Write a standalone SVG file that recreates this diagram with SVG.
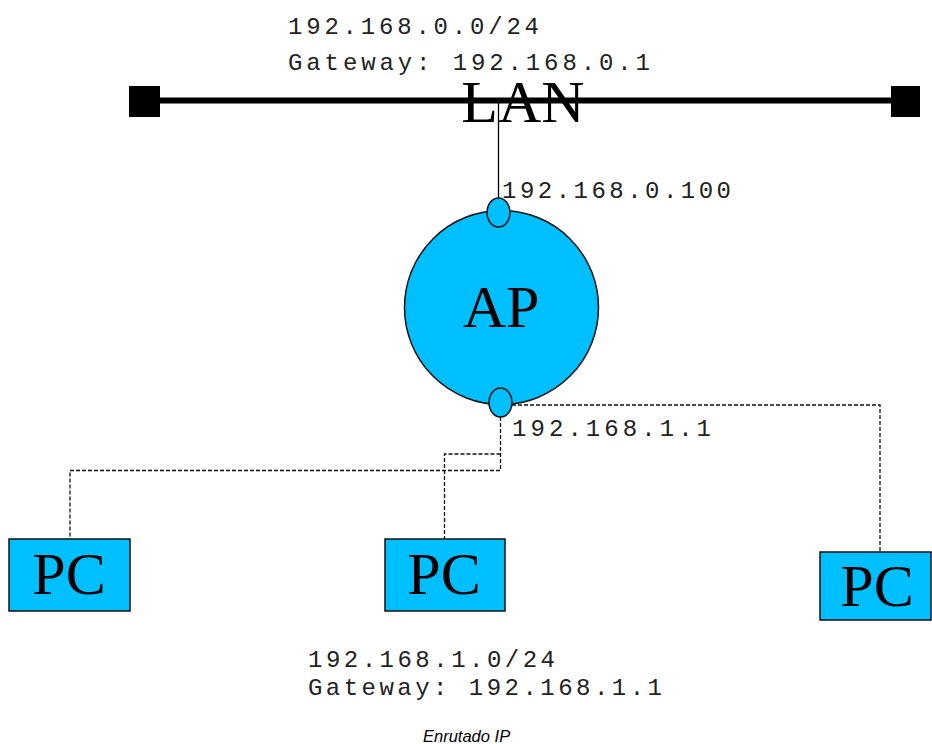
<svg xmlns="http://www.w3.org/2000/svg" width="932" height="744" viewBox="0 0 932 744">
<style>
.mono{font-family:"Liberation Mono","Courier New",monospace;font-size:24px;fill:#222}
.serif{font-family:"Liberation Serif","Times New Roman",serif;font-size:60px;fill:#000}
.node{fill:#00bfff;stroke:#111;stroke-width:1.5}
.dash{fill:none;stroke:#111;stroke-width:1.3;stroke-dasharray:4 2}
</style>
<rect width="932" height="744" fill="#fff"/>
<g id="lan">
<line x1="140" y1="100.5" x2="905" y2="100.5" stroke="#000" stroke-width="6"/>
<rect x="129" y="86" width="31" height="31" fill="#000"/>
<rect x="891" y="86" width="29" height="31" fill="#000"/>
<text class="serif" x="523" y="122" text-anchor="middle">LAN</text>
</g>
<g id="connectors">
<line x1="498.5" y1="100" x2="498.5" y2="199" stroke="#000" stroke-width="1.3"/>
<polyline class="dash" points="512,405 880,405 880,552"/>
<polyline class="dash" points="500.5,417 500.5,470.5 70,470.5 70,539"/>
<polyline class="dash" points="500.5,454 444.5,454 444.5,539"/>
</g>
<g id="ap">
<circle class="node" cx="501.5" cy="307.5" r="97"/>
<ellipse class="node" cx="498.5" cy="212.5" rx="11.5" ry="14.5"/>
<ellipse class="node" cx="500.5" cy="402.5" rx="11.5" ry="14.5"/>
<text class="serif" x="501" y="327" text-anchor="middle" font-size="58">AP</text>
</g>
<g id="pc1">
<rect class="node" x="9" y="539" width="121" height="72"/>
<text class="serif" x="69" y="594" text-anchor="middle">PC</text>
</g>
<g id="pc2">
<rect class="node" x="385" y="539" width="120" height="72"/>
<text class="serif" x="444" y="594" text-anchor="middle">PC</text>
</g>
<g id="pc3">
<rect class="node" x="820" y="552" width="111" height="68"/>
<text class="serif" x="877" y="606" text-anchor="middle">PC</text>
</g>
<g id="labels">
<text class="mono" x="288" y="34" textLength="251" lengthAdjust="spacing">192.168.0.0/24</text>
<text class="mono" x="288" y="70" textLength="362" lengthAdjust="spacing">Gateway: 192.168.0.1</text>
<text class="mono" x="502" y="198" textLength="229" lengthAdjust="spacing">192.168.0.100</text>
<text class="mono" x="512" y="436" textLength="199" lengthAdjust="spacing">192.168.1.1</text>
<text class="mono" x="308" y="667" textLength="247" lengthAdjust="spacing">192.168.1.0/24</text>
<text class="mono" x="308" y="695" textLength="354" lengthAdjust="spacing">Gateway: 192.168.1.1</text>
<text x="423" y="742" font-family="Liberation Sans, Arial, sans-serif" font-size="16.5" font-style="italic" fill="#000">Enrutado IP</text>
</g>
</svg>
